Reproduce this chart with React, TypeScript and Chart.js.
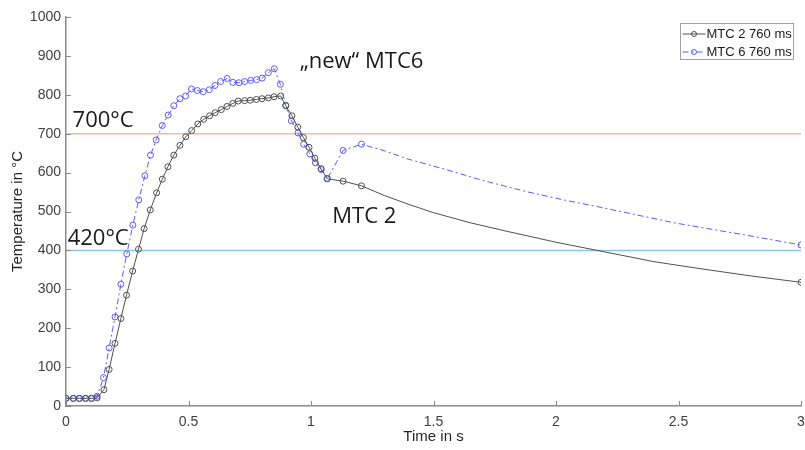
import React, { useEffect, useRef } from "react";
import { Chart, registerables } from "chart.js";

Chart.register(...registerables);

// ---- data ----
const MTC2_TIME = [
  0, 0.03, 0.055, 0.08, 0.104, 0.127, 0.155, 0.176, 0.2, 0.224, 0.247, 0.272, 0.296, 0.319, 0.344,
  0.37, 0.393, 0.416, 0.44, 0.465, 0.489, 0.513, 0.538, 0.562, 0.586, 0.609, 0.634, 0.657, 0.681,
  0.703, 0.729, 0.752, 0.777, 0.8, 0.826, 0.849, 0.876, 0.897, 0.922, 0.946, 0.969, 0.992, 1.016,
  1.041, 1.066, 1.131, 1.206,
  1.3, 1.4, 1.5, 1.65, 1.8, 2.0, 2.2, 2.4, 2.6, 2.8, 3.0,
];
const MTC2_TEMP = [
  20, 20, 20, 20, 20, 21, 42, 94, 161, 225, 285, 347, 403, 456, 504,
  548, 583, 615, 645, 670, 692, 708, 725, 737, 746, 754, 762, 770, 778,
  784, 785, 786, 788, 790, 792, 795, 797, 772, 746, 717, 690, 665, 637,
  610, 584, 578, 566,
  541, 518, 497, 471, 449, 421, 396, 371, 352, 334, 318,
];
const MTC6_TIME = [
  0, 0.03, 0.055, 0.08, 0.104, 0.127, 0.153, 0.176, 0.2, 0.224, 0.248, 0.273, 0.297, 0.322, 0.345,
  0.368, 0.393, 0.417, 0.44, 0.465, 0.488, 0.512, 0.536, 0.56, 0.585, 0.608, 0.631, 0.658, 0.681,
  0.706, 0.729, 0.754, 0.778, 0.801, 0.826, 0.85, 0.875, 0.897, 0.92, 0.947, 0.97, 0.995, 1.018,
  1.042, 1.067, 1.131, 1.206,
  1.3, 1.4, 1.55, 1.7, 1.88, 2.03, 2.18, 2.49, 2.75, 3.0,
];
const MTC6_TEMP = [
  19, 19, 19, 19, 19, 25, 73, 149, 229, 313, 391, 465, 530, 592, 645,
  684, 721, 748, 772, 790, 797, 815, 811, 808, 813, 824, 834, 842, 832,
  831, 834, 837, 839, 843, 857, 867, 827, 773, 733, 702, 673, 648, 625,
  608, 585, 657, 673,
  656, 634, 608, 580, 551, 530, 511, 470, 442, 414,
];
const MARKED_POINTS = 47; // points that carry a marker (plus the last one)
const SERIES_NAMES = ["MTC 2 760 ms", "MTC 6 760 ms"];
const X_TICKS = [0, 0.5, 1, 1.5, 2, 2.5, 3];
const Y_TICKS = [0, 100, 200, 300, 400, 500, 600, 700, 800, 900, 1000];
const LIMIT_VALUES = [700, 400];
const ANNOTATIONS = [
  { text: "700°C", x: 0.027, y: 717 },
  { text: "420°C", x: 0.007, y: 415 },
  { text: "\u201Enew\u201C MTC6", x: 0.954, y: 868 },
  { text: "MTC 2", x: 1.087, y: 470 },
];

// ---- styles ----
const GRAY = "#505050";
const BLUE = "#5a5aff";
const DASH = [6, 3, 2, 3];
const LIMIT_COLORS = ["#f5b8a0", "#86c8e8"];
const AXIS_COLOR = "#8a8a8a";
const TICK_COLOR = "#404040";
const SANS = "'Liberation Sans', Arial, sans-serif";

const markerRadius = (n: number) => (ctx: any) =>
  ctx.dataIndex < MARKED_POINTS || ctx.dataIndex === n - 1 ? 3 : 0;

const overlay = {
  id: "overlay",
  beforeDatasetsDraw(chart: any) {
    const { ctx, chartArea, scales } = chart;
    ctx.save();
    LIMIT_VALUES.forEach((v, i) => {
      const py = scales.y.getPixelForValue(v);
      ctx.strokeStyle = LIMIT_COLORS[i];
      ctx.lineWidth = 1.5;
      ctx.beginPath();
      ctx.moveTo(chartArea.left, py);
      ctx.lineTo(chartArea.right, py);
      ctx.stroke();
    });
    ctx.restore();
  },
  afterDraw(chart: any) {
    const { ctx, chartArea, scales } = chart;
    const { left, right, top, bottom } = chartArea;
    ctx.save();
    // inward ticks
    ctx.strokeStyle = AXIS_COLOR;
    ctx.lineWidth = 1;
    X_TICKS.forEach((v) => {
      const px = Math.round(scales.x.getPixelForValue(v)) + 0.5;
      ctx.beginPath();
      ctx.moveTo(px, bottom);
      ctx.lineTo(px, bottom - 5);
      ctx.stroke();
    });
    Y_TICKS.forEach((v) => {
      const py = Math.round(scales.y.getPixelForValue(v)) + 0.5;
      ctx.beginPath();
      ctx.moveTo(left, py);
      ctx.lineTo(left + 5, py);
      ctx.stroke();
    });
    // annotations
    ctx.fillStyle = "#1a1a1a";
    ctx.font = "22px 'Open Sans', sans-serif";
    ctx.textAlign = "left";
    ctx.textBaseline = "alphabetic";
    ANNOTATIONS.forEach((a) => {
      ctx.fillText(a.text, scales.x.getPixelForValue(a.x), scales.y.getPixelForValue(a.y));
    });
    // legend
    const bw = 113, bh = 36;
    const bx = Math.round(right - 121) + 0.5;
    const by = Math.round(top + 6) + 0.5;
    ctx.fillStyle = "#ffffff";
    ctx.fillRect(bx, by, bw, bh);
    ctx.strokeStyle = "#a0a0a0";
    ctx.lineWidth = 1;
    ctx.strokeRect(bx, by, bw, bh);
    const rows = [
      { color: GRAY, dash: [] as number[], name: SERIES_NAMES[0], cy: by + 10.5 },
      { color: BLUE, dash: DASH, name: SERIES_NAMES[1], cy: by + 28.5 },
    ];
    rows.forEach((r) => {
      ctx.strokeStyle = r.color;
      ctx.lineWidth = 1;
      ctx.setLineDash(r.dash);
      ctx.beginPath();
      ctx.moveTo(bx + 2, r.cy);
      ctx.lineTo(bx + 25, r.cy);
      ctx.stroke();
      ctx.setLineDash([]);
      ctx.beginPath();
      ctx.arc(bx + 13.5, r.cy, 2.5, 0, Math.PI * 2);
      ctx.stroke();
      ctx.fillStyle = "#1a1a1a";
      ctx.font = `13px ${SANS}`;
      ctx.textBaseline = "middle";
      ctx.fillText(r.name, bx + 26, r.cy + 0.5);
    });
    ctx.restore();
  },
};

const plainTick = (v: any) => String(v);

export default function App() {
  const ref = useRef<HTMLCanvasElement | null>(null);
  useEffect(() => {
    if (!ref.current) return;
    const chart = new Chart(ref.current, {
      type: "line",
      data: {
        datasets: [
          {
            label: SERIES_NAMES[0],
            data: MTC2_TIME.map((t, i) => ({ x: t, y: MTC2_TEMP[i] })),
            borderColor: GRAY,
            borderWidth: 1,
            pointRadius: markerRadius(MTC2_TIME.length),
            pointHoverRadius: 0,
            pointBorderColor: GRAY,
            pointBackgroundColor: "rgba(0,0,0,0)",
            pointBorderWidth: 1,
            tension: 0,
          },
          {
            label: SERIES_NAMES[1],
            data: MTC6_TIME.map((t, i) => ({ x: t, y: MTC6_TEMP[i] })),
            borderColor: BLUE,
            borderWidth: 1,
            borderDash: DASH,
            pointRadius: markerRadius(MTC6_TIME.length),
            pointHoverRadius: 0,
            pointBorderColor: BLUE,
            pointBackgroundColor: "rgba(0,0,0,0)",
            pointBorderWidth: 1,
            tension: 0,
          },
        ],
      },
      options: {
        responsive: false,
        animation: false,
        devicePixelRatio: 1,
        layout: { padding: { top: 17, right: 4, left: 0, bottom: 0 } },
        plugins: { legend: { display: false }, tooltip: { enabled: false } },
        events: [],
        scales: {
          x: {
            type: "linear",
            min: 0,
            max: 3,
            afterBuildTicks: (s: any) => {
              s.ticks = X_TICKS.map((v) => ({ value: v }));
            },
            afterFit: (s: any) => {
              s.height = 44;
              s.paddingLeft = 0;
              s.paddingRight = 0;
            },
            ticks: {
              font: { family: SANS, size: 14 },
              color: TICK_COLOR,
              padding: 8,
              maxRotation: 0,
              autoSkip: false,
              callback: plainTick,
            },
            grid: { drawOnChartArea: false, drawTicks: false },
            border: { color: AXIS_COLOR, width: 1.5 },
            title: {
              display: true,
              text: "Time in s",
              font: { family: SANS, size: 15 },
              color: "#262626",
              padding: { top: 0, bottom: 4 },
            },
          },
          y: {
            type: "linear",
            min: 0,
            max: 1000,
            afterBuildTicks: (s: any) => {
              s.ticks = Y_TICKS.map((v) => ({ value: v }));
            },
            afterFit: (s: any) => {
              s.width = 66;
              s.paddingTop = 0;
              s.paddingBottom = 0;
            },
            ticks: {
              font: { family: SANS, size: 14 },
              color: TICK_COLOR,
              padding: 5,
              autoSkip: false,
              callback: plainTick,
            },
            grid: { drawOnChartArea: false, drawTicks: false },
            border: { color: AXIS_COLOR, width: 1.5 },
            title: {
              display: true,
              text: "Temperature in °C",
              font: { family: SANS, size: 15 },
              color: "#262626",
              padding: { top: 9, bottom: 0 },
            },
          },
        },
      },
      plugins: [overlay],
    });
    return () => chart.destroy();
  }, []);
  return (
    <div style={{ position: "absolute", left: 0, top: 0, width: 805, height: 450, background: "#fff" }}>
      <canvas ref={ref} width={805} height={450} style={{ width: 805, height: 450, display: "block" }} />
    </div>
  );
}
